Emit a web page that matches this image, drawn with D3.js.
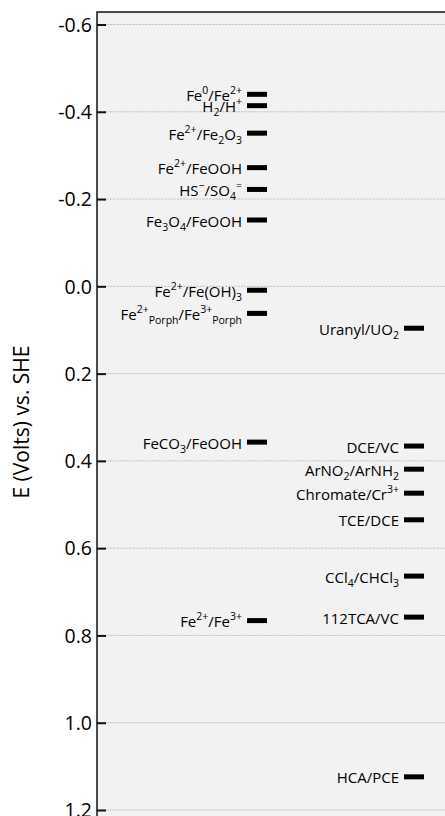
<!DOCTYPE html>
<html>
<head>
<meta charset="utf-8">
<script src="https://cdn.jsdelivr.net/npm/d3@7"></script>
<style>
  body { margin: 0; background: #fff; }
  text { font-family: "Open Sans", sans-serif; fill: #000; }
</style>
</head>
<body>
<script>
// redox couples, E in volts vs SHE
// ^{..} = superscript, _{..} = subscript
const leftLabels = [
  "Fe^{0}/Fe^{2+}", "H_{2}/H^{+}", "Fe^{2+}/Fe_{2}O_{3}", "Fe^{2+}/FeOOH",
  "HS^{−}/SO_{4}^{=}", "Fe_{3}O_{4}/FeOOH", "Fe^{2+}/Fe(OH)_{3}",
  "Fe^{2+}_{Porph}/Fe^{3+}_{Porph}", "FeCO_{3}/FeOOH", "Fe^{2+}/Fe^{3+}"
]
const leftValues = [-0.44, -0.414, -0.351, -0.272, -0.222, -0.152, 0.009, 0.062, 0.357, 0.766]

const rightLabels = [
  "Uranyl/UO_{2}", "DCE/VC", "ArNO_{2}/ArNH_{2}", "Chromate/Cr^{3+}",
  "TCE/DCE", "CCl_{4}/CHCl_{3}", "112TCA/VC", "HCA/PCE"
]
const rightValues = [0.096, 0.366, 0.419, 0.474, 0.535, 0.664, 0.758, 1.124]

const yTicks = [-0.6, -0.4, -0.2, 0.0, 0.2, 0.4, 0.6, 0.8, 1.0, 1.2]

const m = { width: 445, height: 816, left: 97, top: 12 }

const svg = d3.select("body").append("svg")
    .attr("width", m.width)
    .attr("height", m.height)

const y = d3.scaleLinear()
    .domain([-0.6, 1.2])
    .range([24.5, 810])

// plot background
svg.append("rect")
    .attr("x", m.left)
    .attr("y", m.top)
    .attr("width", m.width - m.left + 5)
    .attr("height", m.height - m.top + 5)
    .attr("fill", "#f2f2f2")

// dotted grid
svg.append("g").selectAll("line")
    .data(yTicks)
    .enter()
    .append("line")
        .attr("x1", m.left)
        .attr("x2", m.width)
        .attr("y1", d => y(d))
        .attr("y2", d => y(d))
        .attr("stroke", "#bdbdbd")
        .attr("stroke-width", 1)
        .attr("stroke-dasharray", "2,1.2")

// frame: top and left
svg.append("path")
    .attr("d", `M${m.left},${m.height} V${m.top} H${m.width}`)
    .attr("fill", "none")
    .attr("stroke", "#111")
    .attr("stroke-width", 1.5)

const axis = d3.axisRight(y)
    .tickValues(yTicks)
    .tickFormat(d3.format(".1f"))
    .tickSize(9)

const gAxis = svg.append("g")
    .attr("transform", `translate(${m.left},0)`)
    .call(axis)
gAxis.select(".domain").remove()
gAxis.selectAll(".tick line").attr("stroke", "#111").attr("stroke-width", 2)
gAxis.selectAll(".tick text")
    .attr("x", -5)
    .attr("text-anchor", "end")
    .attr("dy", "0.35em")
    .style("font-family", "'Open Sans', sans-serif")
    .style("font-size", "19.5px")
    .attr("fill", "#000")
    .text(d => d3.format(".1f")(d).replace("−", "-"))

svg.append("text")
    .attr("transform", "translate(29,422) rotate(-90)")
    .attr("text-anchor", "middle")
    .style("font-size", "21px")
    .text("E (Volts) vs. SHE")

// split a label into runs of normal / sup / sub text
function parseLabel(s) {
    const parts = []
    const re = /([\^_])\{([^}]*)\}|([^\^_]+)/g
    let mt
    while ((mt = re.exec(s)) !== null) {
        if (mt[3]) parts.push({ t: mt[3], lvl: 0 })
        else parts.push({ t: mt[2], lvl: mt[1] === "^" ? 1 : -1 })
    }
    return parts
}

function drawCouples(labels, values, barX, barW) {
    const g = svg.append("g")
    g.selectAll("rect")
        .data(values)
        .enter()
        .append("rect")
            .attr("x", barX)
            .attr("y", d => y(d) - 2.5)
            .attr("width", barW)
            .attr("height", 5)
            .attr("fill", "#000")

    labels.forEach(function(lab, i) {
        const txt = g.append("text")
            .attr("x", barX - 5)
            .attr("y", y(values[i]) + 6.5)
            .attr("text-anchor", "end")
            .style("font-size", "15px")
        let cur = 0
        parseLabel(lab).forEach(function(p) {
            const target = p.lvl === 1 ? -7 : p.lvl === -1 ? 4 : 0
            txt.append("tspan")
                .attr("dy", target - cur)
                .style("font-size", p.lvl === 0 ? "15px" : "10.5px")
                .text(p.t)
            cur = target
        })
    })
}

drawCouples(leftLabels, leftValues, 247, 20)
drawCouples(rightLabels, rightValues, 404, 20)
</script>
</body>
</html>
